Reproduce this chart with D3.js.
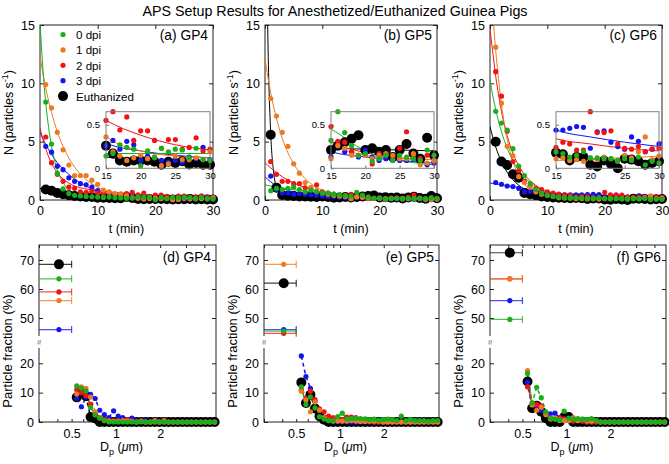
<!DOCTYPE html>
<html>
<head>
<meta charset="utf-8">
<script src="https://cdn.jsdelivr.net/npm/d3@7"></script>
<style>
  body { margin: 0; background: #fff; }
  svg { font-family: "Liberation Sans", Arial, sans-serif; }
</style>
</head>
<body>
<div id="chart"></div>
<script>
// time axis (min) and fit knots
const tMin = [1,2,3,4,5,6,7,8,9,10,11,12,13,14,15,16,17,18,19,20,21,22,23,24,25,26,27,28,29,30];
const fitT = [0,0.5,1,1.5,2,3,4,5,6,8,10,12,15,20,25,30];
// APS channel midpoints (um)
const dpBins = [0.542,0.583,0.626,0.673,0.723,0.777,0.835,0.898,0.965,1.037,1.114,1.197,1.286,1.382,1.486,1.596,1.715,1.843,1.981,2.129,2.288,2.458,2.642,2.839,3.051,3.278,3.523,3.786,4.068,4.371,4.698];

const seriesLabels = ["0 dpi", "1 dpi", "2 dpi", "3 dpi", "Euthanized"];
const seriesColors = ["#1aae1a", "#ec7a22", "#f21414", "#1414f0", "#000000"];
const panelLabels = ["(a) GP4", "(b) GP5", "(c) GP6", "(d) GP4", "(e) GP5", "(f) GP6"];

// ---- N (particles/s) vs t ----
const gp4_0dpi = [8.4,4.8,2.3,0.95,0.55,0.4,0.35,0.3,0.28,0.25,0.22,0.25,0.2,0.18,0.14,0.17,0.27,0.24,0.22,0.03,0.2,0.12,0.23,0.19,0.22,0.21,0.12,0.23,0.1,0.09];
const gp4_1dpi = [9.9,7.9,5.8,4.3,3.0,2.1,2.1,2.1,1.7,1.35,0.85,0.7,0.55,0.5,0.36,0.19,0.14,0.09,0.12,0.15,0.11,0.13,0.03,0.05,0.14,0.1,0.1,0.12,0.1,0.19];
const gp4_2dpi = [5.4,3.2,2.2,1.6,1.1,1.0,0.7,0.65,0.75,0.6,0.55,0.6,0.5,0.5,0.55,0.65,0.44,0.59,0.32,0.43,0.43,0.32,0.23,0.33,0.33,0.22,0.24,0.35,0.2,0.22];
const gp4_3dpi = [4.6,4.1,2.9,2.6,1.9,1.6,1.4,1.3,1.1,0.8,0.6,0.5,0.45,0.35,0.26,0.32,0.22,0.31,0.27,0.09,0.14,0.13,0.09,0.07,0.09,0.07,0.13,0.11,0.24,0.1];
const gp4_euth = [0.9,0.8,0.6,0.5,0.4,0.35,0.3,0.25,0.25,0.2,0.2,0.18,0.15,0.15,0.26,0.17,0.09,0.075,0.09,0.09,0.09,0.075,0.04,0.075,0.06,0.08,0.045,0.06,0.04,0.04];

const gp5_0dpi = [0.8,1.0,0.9,1.0,1.1,0.9,0.7,0.85,0.7,0.6,0.6,0.5,0.45,0.4,0.32,0.65,0.41,0.26,0.15,0.17,0.08,0.11,0.15,0.09,0.15,0.13,0.11,0.09,0.21,0.15];
const gp5_1dpi = [8.7,7.2,5.8,4.6,3.1,2.3,1.5,1.06,0.8,0.6,0.5,0.4,0.35,0.3,0.11,0.26,0.23,0.15,0.15,0.15,0.11,0.15,0.17,0.15,0.11,0.11,0.17,0.04,0.06,0.09];
const gp5_2dpi = [3.3,2.2,1.6,1.6,1.4,1.4,1.05,1.05,1.3,0.7,0.6,0.5,0.4,0.4,0.48,0.31,0.3,0.19,0.15,0.15,0.05,0.17,0.15,0.11,0.23,0.42,0.15,0.11,0.15,0.08];
const gp5_3dpi = [2.05,0.9,0.6,0.6,0.5,0.55,0.5,0.45,0.4,0.35,0.3,0.3,0.25,0.22,0.13,0.27,0.19,0.19,0.13,0.21,0.13,0.09,0.11,0.09,0.09,0.09,0.11,0.11,0.04,0.06];
const gp5_euth = [5.6,1.06,0.43,0.37,0.35,0.3,0.3,0.28,0.25,0.3,0.25,0.2,0.22,0.25,0.21,0.26,0.3,0.34,0.38,0.21,0.23,0.19,0.21,0.13,0.21,0.28,0.17,0.11,0.35,0.15];

const gp6_0dpi = [7.6,6.6,6.0,4.4,2.9,2.1,1.4,0.9,0.6,0.4,0.3,0.25,0.2,0.2,0.19,0.17,0.13,0.15,0.19,0.12,0.12,0.11,0.11,0.09,0.11,0.09,0.13,0.04,0.08,0.06];
const gp6_1dpi = [13.1,8.3,4.6,3.8,2.0,1.5,1.1,0.7,0.5,0.4,0.3,0.2,0.18,0.15,0.11,0.12,0.09,0.1,0.08,0.12,0.1,0.13,0.11,0.09,0.15,0.12,0.19,0.36,0.1,0.14];
const gp6_2dpi = [11.0,8.9,5.9,3.3,2.5,1.6,1.2,1.0,0.9,0.7,0.6,0.5,0.45,0.4,0.24,0.3,0.28,0.21,0.21,0.65,0.41,0.41,0.43,0.28,0.23,0.22,0.25,0.19,0.22,0.23];
const gp6_3dpi = [1.5,1.35,1.2,1.15,1.0,0.7,0.75,0.7,0.6,0.55,0.5,0.45,0.45,0.45,0.44,0.44,0.46,0.48,0.47,0.23,0.42,0.43,0.3,0.25,0.22,0.36,0.31,0.19,0.22,0.28];
const gp6_euth = [5.0,3.3,3.0,2.2,1.9,0.6,0.5,0.4,0.3,0.25,0.22,0.2,0.18,0.16,0.18,0.16,0.09,0.13,0.13,0.04,0.02,0.09,0.05,0.0,0.11,0.1,0.08,0.04,0.06,0.08];

// exponential fit curves read at fitT
const gp4_fit0 = [15.2,11.25,8.3,6.2,4.6,2.6,1.5,0.89,0.56,0.29,0.2,0.18,0.17,0.17,0.17,0.17];
const gp4_fit1 = [12.3,10.87,9.6,8.48,7.5,5.86,4.59,3.6,2.82,1.75,1.1,0.71,0.37,0.2,0.14,0.12];
const gp4_fit2 = [6.2,5.2,4.4,3.7,3.15,2.35,1.8,1.45,1.2,0.95,0.8,0.7,0.55,0.38,0.27,0.21];
const gp4_fit3 = [5.8,5.25,4.75,4.3,3.9,3.2,2.65,2.2,1.8,1.2,0.75,0.5,0.29,0.2,0.15,0.12];
const gp4_fitE = [1.0,0.92,0.85,0.78,0.72,0.62,0.53,0.46,0.4,0.3,0.23,0.18,0.13,0.09,0.07,0.06];

const gp5_fit0 = [1.3,1.25,1.2,1.15,1.1,1.02,0.95,0.88,0.82,0.72,0.63,0.56,0.45,0.2,0.09,0.04];
const gp5_fit1 = [12.1,10.55,9.2,8.0,7.0,5.3,4.05,3.1,2.37,1.4,0.84,0.53,0.29,0.15,0.11,0.1];
const gp5_fit2 = [3.2,2.95,2.75,2.55,2.35,2.0,1.7,1.45,1.25,0.9,0.65,0.48,0.31,0.18,0.12,0.1];
const gp5_fit3 = [2.0,1.75,1.55,1.38,1.23,1.0,0.83,0.7,0.6,0.45,0.35,0.28,0.19,0.13,0.09,0.06];
const gp5_fitE = [35,14,5.7,2.4,1.1,0.45,0.33,0.3,0.28,0.26,0.25,0.24,0.23,0.22,0.21,0.2];

const gp6_fit0 = [10.3,8.9,7.76,6.7,5.86,4.43,3.35,2.55,1.94,1.14,0.69,0.4,0.13,0.11,0.09,0.08];
const gp6_fit1 = [20,16,12.8,10.3,8.2,5.2,3.3,2.1,1.35,0.6,0.3,0.17,0.09,0.11,0.12,0.14];
const gp6_fit2 = [14.6,12.6,10.6,9.0,7.6,5.5,4.0,2.95,2.2,1.25,0.75,0.5,0.34,0.28,0.23,0.2];
const gp6_fit3 = [1.45,1.42,1.38,1.34,1.3,1.22,1.14,1.06,0.99,0.8,0.65,0.55,0.44,0.36,0.3,0.25];
const gp6_fitE = [6.3,5.35,4.54,3.86,3.28,2.38,1.73,1.27,0.94,0.53,0.32,0.21,0.13,0.11,0.09,0.08];

// ---- particle fraction (%) vs Dp ----
const gp4_frac0 = [12.3,11.5,10.6,5.0,2.4,1.3,0.5,0,0,0,0,0,0,0,0,0,0,0,0,0,0,0,0,0,0,0,0,0,0,0,0];
const gp4_frac1 = [9.5,12.0,11.5,8.5,3.5,1.5,0.5,0.3,0.3,0.2,0.5,0.3,0.2,0,0.3,0,0,0.5,0,0.5,0,0,0,0,0,0,0,0,0,0,0];
const gp4_frac2 = [11.0,10.0,9.0,6.0,3.0,1.5,0.8,0.5,0.3,0.5,0.3,0.8,0.3,0,0.2,0,0,0,0,0,0,0,0,0,0,0,0,0,0,0,0];
const gp4_frac3 = [8.0,5.2,8.5,9.4,8.0,4.0,2.5,1.5,3.8,2.0,1.5,0.8,1.3,0.5,0.3,0.5,0.2,0.5,0.3,0,0,0,0,0,0,0,0,0,0,0,0];
const gp4_fracE = [8.4,10.5,8.8,1.7,1.2,0,0,0,0,0,0,0,0,0,0,0,0,0,0,0,0,0,0,0,0,0,0,0,0,0,0];

const gp5_frac0 = [12.0,6.0,8.6,4.8,1.8,1.0,0.5,0.3,1.8,3.0,1.0,1.2,1.3,1.2,1.1,0.8,1.0,0.6,0.8,1.0,0.8,0.5,2.0,0.5,0.8,0.5,0.5,0.5,0.3,0.5,0.5];
const gp5_frac1 = [10.5,7.5,3.5,6.8,4.0,1.5,0.5,0.3,0.3,0.3,0.3,0.5,0.3,0.2,0.2,0.3,0.3,0.3,0,0,0,0,0,0,0,0,0,0,0,0,0];
const gp5_frac2 = [11.0,8.0,10.5,7.6,4.5,3.5,2.0,1.5,1.0,0.8,1.7,1.7,1.5,0.5,0.3,0.2,0,0,0,0,0,0,0,0,0,0,0,0,0,0,0];
const gp5_frac3 = [22.5,15.5,11.5,7.0,4.0,1.5,0.6,0.3,0.2,0.2,0.1,0,0,0,0,0,0,0,0,0,0,0,0,0,0,0,0,0,0,0,0];
const gp5_fracE = [13.5,6.5,9.3,4.6,2.0,0.8,0,0,0,0,0,0,0,0,0,0,0,0,0,0,0,0,0,0,0,0,0,0,0,0,0];

const gp6_frac0 = [16.5,6.5,11.8,8.3,3.5,1.3,1.0,0.8,3.7,1.3,1.0,1.2,1.0,0.8,1.2,0.5,0,0,0,0,0,0,0,0,0,0,0,0,0,0,0];
const gp6_frac1 = [17.5,5.8,4.0,5.0,2.5,1.0,1.2,0.5,0.5,0.5,1.5,0.5,1.0,0.3,0.3,0.5,0,0,0,0,0,0,0,0,0,0,0,0,0,0,0];
const gp6_frac2 = [12.0,6.4,6.0,5.5,3.0,1.5,1.0,1.5,1.0,0.5,0.3,0.5,0.3,0,0,0,0,0,0,0,0,0,0,0,0,0,0,0,0,0,0];
const gp6_frac3 = [13.5,6.0,5.5,4.0,3.0,2.8,3.0,1.5,1.2,0.8,0.5,0.5,0.3,0,0,0,0,0,0,0,0,0,0,0,0,0,0,0,0,0,0];
const gp6_fracE = [13.8,4.7,5.5,3.5,1.3,0,0,0,1.7,1.7,0,0,0,0,0,0,0,0,0,0,0,0,0,0,0,0,0,0,0,0,0];

// fraction below 0.5 um (order: 0,1,2,3 dpi, euthanized)
const gp4_sub05 = [63.5, 56, 59, 46, 68.5];
const gp5_sub05 = [45.5, 68.5, 44.7, 46, 62];
const gp6_sub05 = [49.5, 63.5, 63.5, 56, 72.5];
const sub05Dp = 0.41;
const sub05Edge = 0.5;

const timeCounts = [
  [gp4_0dpi, gp4_1dpi, gp4_2dpi, gp4_3dpi, gp4_euth],
  [gp5_0dpi, gp5_1dpi, gp5_2dpi, gp5_3dpi, gp5_euth],
  [gp6_0dpi, gp6_1dpi, gp6_2dpi, gp6_3dpi, gp6_euth]
];
const timeFits = [
  [gp4_fit0, gp4_fit1, gp4_fit2, gp4_fit3, gp4_fitE],
  [gp5_fit0, gp5_fit1, gp5_fit2, gp5_fit3, gp5_fitE],
  [gp6_fit0, gp6_fit1, gp6_fit2, gp6_fit3, gp6_fitE]
];
const fracs = [
  [gp4_frac0, gp4_frac1, gp4_frac2, gp4_frac3, gp4_fracE],
  [gp5_frac0, gp5_frac1, gp5_frac2, gp5_frac3, gp5_fracE],
  [gp6_frac0, gp6_frac1, gp6_frac2, gp6_frac3, gp6_fracE]
];
const sub05 = [gp4_sub05, gp5_sub05, gp6_sub05];

// black first, green on top
const drawOrder = [4, 3, 2, 1, 0];

const W = 669, H = 464;
const axisColor = "#222";
const topFrames = [[40, 213], [265, 437], [490, 662]];
const botFrames = [[39, 216], [264, 439], [490, 666]];

const svg = d3.select("#chart").append("svg")
  .attr("width", W).attr("height", H);

// font sizes below are in Arial units; scale if the fallback font runs narrower/wider
const probe = svg.append("text").attr("font-size", 100).text("Euthanized");
const fk = 500.3 / (probe.node().getComputedTextLength() || 500.3);
probe.remove();
function fs(n) { return n * fk; }

svg.append("text")
  .attr("x", 335).attr("y", 16)
  .attr("text-anchor", "middle")
  .attr("font-size", fs(14.2))
  .attr("textLength", 385).attr("lengthAdjust", "spacingAndGlyphs")
  .text("APS Setup Results for Anesthetized/Euthanized Guinea Pigs");

function styleAxis(g, size) {
  g.select(".domain").remove();
  g.selectAll(".tick line").attr("stroke", axisColor);
  g.selectAll(".tick text").attr("font-size", fs(size)).attr("fill", "#000")
    .attr("font-family", "Liberation Sans, Arial, sans-serif");
}

function radius(s) { return s == 4 ? 5 : 2.6; }

// ---------- top row ----------
topFrames.forEach(function (f, p) {
  const x = d3.scaleLinear().domain([0, 30]).range([f[0], f[1]]);
  const y = d3.scaleLinear().domain([0, 15]).range([200, 25]);
  const g = svg.append("g");

  g.append("clipPath").attr("id", "clipT" + p)
    .append("rect").attr("x", f[0]).attr("y", 25).attr("width", f[1] - f[0]).attr("height", 175);

  g.append("g").attr("transform", "translate(0,200)")
    .call(d3.axisBottom(x).tickValues([0, 10, 20, 30]).tickSizeInner(-4).tickSizeOuter(0).tickPadding(6))
    .call(function (a) { styleAxis(a, 12.5); });
  g.append("g").attr("transform", "translate(0,25)")
    .call(d3.axisTop(x).tickValues([0, 10, 20, 30]).tickSizeInner(-4).tickSizeOuter(0).tickFormat(""))
    .call(function (a) { styleAxis(a, 12.5); });
  g.append("g").attr("transform", "translate(" + f[0] + ",0)")
    .call(d3.axisLeft(y).tickValues([0, 5, 10, 15]).tickSizeInner(-4).tickSizeOuter(0).tickPadding(5))
    .call(function (a) { styleAxis(a, 12.5); });
  g.append("g").attr("transform", "translate(" + f[1] + ",0)")
    .call(d3.axisRight(y).tickValues([0, 5, 10, 15]).tickSizeInner(-4).tickSizeOuter(0).tickFormat(""))
    .call(function (a) { styleAxis(a, 12.5); });

  g.append("rect").attr("x", f[0]).attr("y", 25).attr("width", f[1] - f[0]).attr("height", 175)
    .attr("fill", "none").attr("stroke", axisColor);

  const line = d3.line().x(d => x(d[0])).y(d => y(d[1])).curve(d3.curveMonotoneX);
  drawOrder.forEach(function (s) {
    g.append("path").datum(d3.zip(fitT, timeFits[p][s]))
      .attr("d", line).attr("clip-path", "url(#clipT" + p + ")")
      .attr("fill", "none").attr("stroke", seriesColors[s]).attr("stroke-width", 1);
  });
  drawOrder.forEach(function (s) {
    g.selectAll(null).data(d3.zip(tMin, timeCounts[p][s])).enter().append("circle")
      .attr("cx", d => x(d[0])).attr("cy", d => y(d[1])).attr("r", radius(s))
      .attr("fill", seriesColors[s]);
  });

  // axis labels
  const cx = (f[0] + f[1]) / 2;
  g.append("text").attr("x", cx).attr("y", 233).attr("text-anchor", "middle")
    .attr("font-size", fs(12.5)).text("t (min)");
  const yl = g.append("text").attr("transform", "translate(" + (f[0] - 27) + ",112.5) rotate(-90)")
    .attr("text-anchor", "middle").attr("font-size", fs(12.5));
  yl.append("tspan").text("N (particles s");
  yl.append("tspan").attr("dy", -5).attr("font-size", fs(9)).text("-1");
  yl.append("tspan").attr("dy", 5).text(")");

  g.append("text").attr("x", f[1] - 5).attr("y", 40).attr("text-anchor", "end")
    .attr("font-size", fs(13.8)).text(panelLabels[p]);

  // inset zoom 15-30 min
  const xi = d3.scaleLinear().domain([15, 30]).range([f[0] + 66, f[1] - 3]);
  const yi = d3.scaleLinear().domain([0, 0.65]).range([168.3, 111.7]);
  const ig = g.append("g");
  ig.append("clipPath").attr("id", "clipI" + p)
    .append("rect").attr("x", f[0] + 66).attr("y", 111.7).attr("width", f[1] - f[0] - 69).attr("height", 56.6);
  ig.append("rect").attr("x", f[0] + 66).attr("y", 111.7).attr("width", f[1] - f[0] - 69).attr("height", 56.6)
    .attr("fill", "#fff");
  ig.append("g").attr("transform", "translate(0,168.3)")
    .call(d3.axisBottom(xi).tickValues([15, 20, 25, 30]).tickSizeInner(-3).tickSizeOuter(0).tickPadding(3.5))
    .call(function (a) { styleAxis(a, 9.5); });
  ig.append("g").attr("transform", "translate(" + (f[0] + 66) + ",0)")
    .call(d3.axisLeft(yi).tickValues([0, 0.5]).tickFormat(d => String(d)).tickSizeInner(-3).tickSizeOuter(0).tickPadding(6))
    .call(function (a) { styleAxis(a, 9.5); });
  ig.selectAll(".tick line").attr("stroke", "#777");
  const iline = d3.line().x(d => xi(d[0])).y(d => yi(d[1])).curve(d3.curveMonotoneX);
  drawOrder.forEach(function (s) {
    ig.append("path").datum(d3.zip(fitT, timeFits[p][s]))
      .attr("d", iline).attr("clip-path", "url(#clipI" + p + ")")
      .attr("fill", "none").attr("stroke", seriesColors[s]).attr("stroke-width", 1);
  });
  drawOrder.forEach(function (s) {
    ig.selectAll(null).data(d3.zip(tMin, timeCounts[p][s]).filter(d => d[0] >= 15)).enter().append("circle")
      .attr("cx", d => xi(d[0])).attr("cy", d => yi(d[1])).attr("r", radius(s))
      .attr("fill", seriesColors[s]);
  });
  ig.append("rect").attr("x", f[0] + 66).attr("y", 111.7).attr("width", f[1] - f[0] - 69).attr("height", 56.6)
    .attr("fill", "none").attr("stroke", "#808080");

  // legend only in (a)
  if (p == 0) {
    seriesLabels.forEach(function (lab, s) {
      const ly = 34.5 + s * 15.4;
      g.append("circle").attr("cx", 63).attr("cy", ly).attr("r", radius(s)).attr("fill", seriesColors[s]);
      g.append("text").attr("x", 76).attr("y", ly + 4.5).attr("font-size", fs(11.6)).text(lab);
    });
  }
});

// ---------- bottom row ----------
botFrames.forEach(function (f, p) {
  const x = d3.scaleLog().domain([0.3, 4.8]).range([f[0], f[1]]);
  const yLow = d3.scaleLinear().domain([0, 20]).range([422, 363.3]);
  const yUp = d3.scaleLinear().domain([50, 70]).range([318, 260]);
  const yv = v => (v > 35 ? yUp(v) : yLow(v));
  const g = svg.append("g");
  const top = 245, bot = 422;

  const minorTicks = [0.3, 0.4, 0.5, 0.6, 0.7, 0.8, 0.9, 1, 2, 3, 4];
  const fmt = d => ([0.5, 1, 2].indexOf(d) >= 0 ? String(d) : "");
  g.append("g").attr("transform", "translate(0," + bot + ")")
    .call(d3.axisBottom(x).tickValues(minorTicks).tickFormat(fmt).tickSizeInner(-3).tickSizeOuter(0).tickPadding(7))
    .call(function (a) { styleAxis(a, 12.5); });
  g.append("g").attr("transform", "translate(0," + top + ")")
    .call(d3.axisTop(x).tickValues(minorTicks).tickFormat("").tickSizeInner(-3).tickSizeOuter(0))
    .call(function (a) { styleAxis(a, 12.5); });
  [yLow, yUp].forEach(function (sc, k) {
    const tv = k == 0 ? [0, 10, 20] : [50, 60, 70];
    g.append("g").attr("transform", "translate(" + f[0] + ",0)")
      .call(d3.axisLeft(sc).tickValues(tv).tickSizeInner(-4).tickSizeOuter(0).tickPadding(5))
      .call(function (a) { styleAxis(a, 12.5); });
    g.append("g").attr("transform", "translate(" + f[1] + ",0)")
      .call(d3.axisRight(sc).tickValues(tv).tickSizeInner(-4).tickSizeOuter(0).tickFormat(""))
      .call(function (a) { styleAxis(a, 12.5); });
  });
  g.append("rect").attr("x", f[0]).attr("y", top).attr("width", f[1] - f[0]).attr("height", bot - top)
    .attr("fill", "none").attr("stroke", axisColor);

  // axis break mark
  g.append("rect").attr("x", f[0] - 3).attr("y", 336).attr("width", 6).attr("height", 12).attr("fill", "#fff");
  g.append("text").attr("transform", "translate(" + (f[0] + 3) + ",342) rotate(-90)")
    .attr("text-anchor", "middle").attr("font-size", fs(9)).attr("fill", "#555").text("\u2248");

  // < 0.5 um fraction with bin error bar
  drawOrder.forEach(function (s) {
    const v = sub05[p][s];
    g.append("line").attr("x1", x(0.3)).attr("x2", x(sub05Edge)).attr("y1", yv(v)).attr("y2", yv(v))
      .attr("stroke", seriesColors[s]).attr("stroke-opacity", 0.75).attr("stroke-width", 1.2);
    g.append("line").attr("x1", x(sub05Edge)).attr("x2", x(sub05Edge)).attr("y1", yv(v) - 3.5).attr("y2", yv(v) + 3.5)
      .attr("stroke", seriesColors[s]).attr("stroke-opacity", 0.75).attr("stroke-width", 1.2);
    g.append("circle").attr("cx", x(sub05Dp)).attr("cy", yv(v)).attr("r", radius(s)).attr("fill", seriesColors[s]);
  });

  const line = d3.line().x(d => x(d[0])).y(d => yLow(d[1]));
  drawOrder.forEach(function (s) {
    g.append("path").datum(d3.zip(dpBins, fracs[p][s]))
      .attr("d", line).attr("fill", "none").attr("stroke", seriesColors[s])
      .attr("stroke-width", 1.5).attr("stroke-dasharray", "4,3");
  });
  drawOrder.forEach(function (s) {
    g.selectAll(null).data(d3.zip(dpBins, fracs[p][s])).enter().append("circle")
      .attr("cx", d => x(d[0])).attr("cy", d => yLow(d[1])).attr("r", radius(s))
      .attr("fill", seriesColors[s]);
  });

  const cx = (f[0] + f[1]) / 2 - 6;
  const xl = g.append("text").attr("x", cx).attr("y", 451).attr("text-anchor", "middle").attr("font-size", fs(12.5));
  xl.append("tspan").text("D");
  xl.append("tspan").attr("dy", 4).attr("font-size", fs(9)).text("p");
  xl.append("tspan").attr("dy", -4).text(" (");
  xl.append("tspan").attr("font-style", "italic").text("\u03bc");
  xl.append("tspan").text("m)");
  g.append("text").attr("transform", "translate(" + (f[0] - 27) + ",351) rotate(-90)")
    .attr("text-anchor", "middle").attr("font-size", fs(13)).text("Particle fraction (%)");

  g.append("text").attr("x", f[1] - 5).attr("y", 262).attr("text-anchor", "end")
    .attr("font-size", fs(13.8)).text(panelLabels[p + 3]);
});
</script>
</body>
</html>
